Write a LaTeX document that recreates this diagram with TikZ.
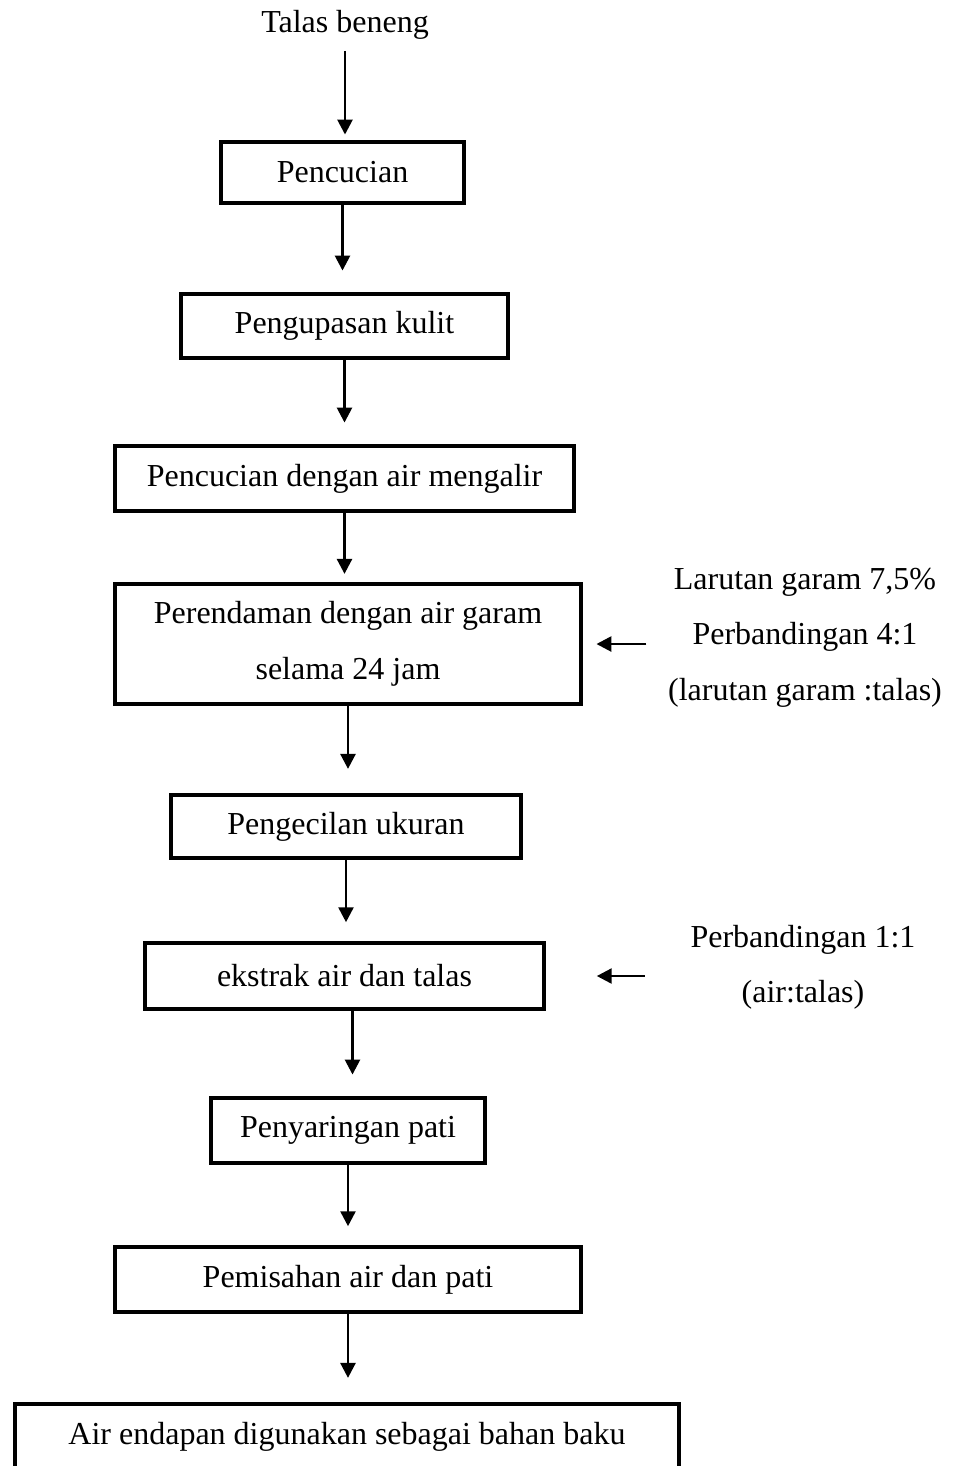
\documentclass[tikz,border=0pt]{standalone}
\usepackage{fontspec}
\setmainfont{Liberation Serif}
\usepackage{tikz}
\usetikzlibrary{positioning,arrows.meta}

\begin{document}
\begin{tikzpicture}[
  x=0.375pt, y=-0.375pt,
  >={Triangle[length=5.6pt, width=5.6pt]},
  font=\fontsize{12}{20.8}\selectfont,
  proses/.style={draw, line width=1.6pt, align=center, inner sep=2pt},
  catatan/.style={align=center, inner sep=2pt},
  alur/.style={->, line width=1pt}
]
\useasboundingbox (0,0) rectangle (957,1466);

\node[catatan] (talas) at (345,25) {Talas beneng};
\node[proses, minimum width=243*0.375pt, minimum height=61*0.375pt] (cuci)    at (342.5,172.5) {Pencucian};
\node[proses, minimum width=327*0.375pt, minimum height=64*0.375pt] (kupas)   at (344.5,326)   {Pengupasan kulit};
\node[proses, minimum width=459*0.375pt, minimum height=65*0.375pt] (bilas)   at (344.5,478.5) {Pencucian dengan air mengalir};
\node[proses, minimum width=466*0.375pt, minimum height=120*0.375pt] (rendam) at (348,644)     {Perendaman dengan air garam\\selama 24 jam};
\node[proses, minimum width=350*0.375pt, minimum height=63*0.375pt] (kecil)   at (346,826.5)   {Pengecilan ukuran};
\node[proses, minimum width=399*0.375pt, minimum height=66*0.375pt] (ekstrak) at (344.5,976)   {ekstrak air dan talas};
\node[proses, minimum width=274*0.375pt, minimum height=65*0.375pt] (saring)  at (348,1130.5)  {Penyaringan pati};
\node[proses, minimum width=466*0.375pt, minimum height=65*0.375pt] (pisah)   at (348,1279.5)  {Pemisahan air dan pati};
\node[proses, minimum width=664*0.375pt, minimum height=65*0.375pt] (endap)   at (347,1436.5)  {Air endapan digunakan sebagai bahan baku};

% keterangan samping
\node[catatan] (garam) at (805,637.5) {Larutan garam 7,5\%\\Perbandingan 4:1\\(larutan garam :talas)};
\node[catatan] (banding) at (803,967.5) {Perbandingan 1:1\\(air:talas)};

% alur utama
\draw[alur, shorten <=2pt, shorten >=2pt] (talas.south) -- (talas.south |- cuci.north);
\draw[alur, shorten >=8pt] (cuci.south)    -- (cuci.south |- kupas.north);
\draw[alur, shorten >=8pt] (kupas.south)   -- (kupas.south |- bilas.north);
\draw[alur, shorten >=3pt] (bilas.south)   -- (bilas.south |- rendam.north);
\draw[alur, shorten >=9pt] (rendam.south)  -- (rendam.south |- kecil.north);
\draw[alur, shorten >=7pt] (kecil.south)   -- (kecil.south |- ekstrak.north);
\draw[alur, shorten >=8pt] ([xshift=3pt]ekstrak.south) -- ([xshift=3pt]ekstrak.south |- saring.north);
\draw[alur, shorten >=7pt] (saring.south)  -- (saring.south |- pisah.north);
\draw[alur, shorten >=9pt] (pisah.south)   -- (pisah.south |- endap.north);

% masukan samping
\draw[alur, shorten <=6pt, shorten >=5pt] (rendam.east -| garam.west) -- (rendam.east);
\draw[alur, shorten <=15pt, shorten >=19pt] (ekstrak.east -| banding.west) -- (ekstrak.east);
\end{tikzpicture}
\end{document}
